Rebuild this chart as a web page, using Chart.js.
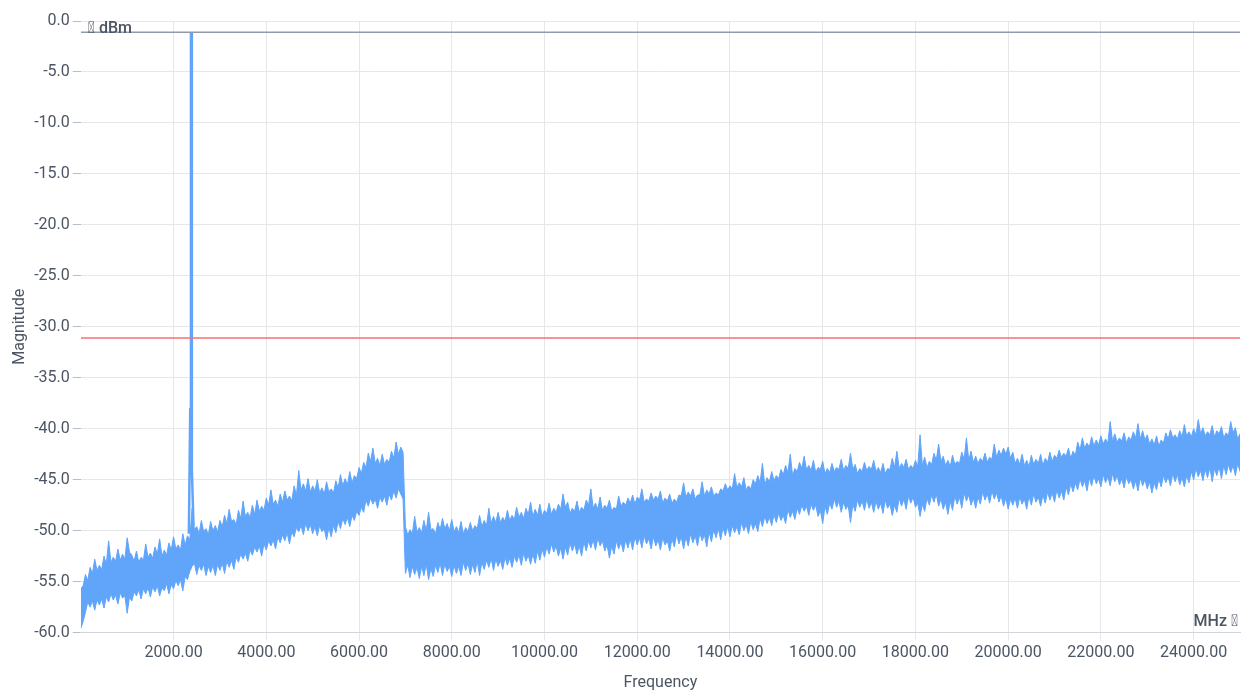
<!DOCTYPE html>
<html>
<head>
<meta charset="utf-8">
<script src="https://cdn.jsdelivr.net/npm/chart.js@4/dist/chart.umd.min.js"></script>
<style>
  html, body { margin: 0; padding: 0; background: #fff; }
  #wrap { width: 1246px; height: 693px; position: relative; }
</style>
</head>
<body>
<div id="wrap"><canvas id="spectrum"></canvas></div>
<script>
// sweep grid: one envelope sample every 50 MHz from 0 to 25000 MHz
const startMHz = 0;
const stepMHz = 50;

// upper edge of the noise band (dBm)
const upperDbm = [
  -55.7, -55.4, -54.3, -54.9, -53.6, -54.2, -52.8, -53.9, -53.4, -53.8, -52.5, -53.3, -51.0, -53.1, -52.6, -53.0, -51.8, -52.9, -52.3, -52.8,
  -50.7, -52.1, -52.4, -53.0, -52.0, -53.1, -52.6, -52.9, -51.3, -52.6, -52.2, -52.7, -51.6, -52.3, -50.8, -52.5, -51.9, -52.4, -51.2, -51.9,
  -50.6, -51.8, -51.4, -51.9, -50.3, -51.4, -50.5, -50.9, -47.8, -49.9, -49.6, -50.3, -49.0, -50.1, -49.8, -50.4, -49.1, -50.0, -49.5, -50.1,
  -49.0, -49.6, -48.5, -49.3, -47.9, -49.1, -48.9, -49.4, -48.0, -48.8, -47.1, -48.6, -48.2, -48.7, -47.5, -48.4, -47.0, -48.1, -47.6, -48.0,
  -46.8, -47.5, -46.0, -47.4, -47.0, -47.6, -46.4, -47.2, -46.1, -47.0, -46.6, -47.1, -45.6, -46.5, -44.1, -46.0, -45.4, -46.1, -44.9, -46.2,
  -45.6, -46.1, -45.0, -46.3, -45.8, -46.4, -45.2, -46.2, -45.9, -46.3, -45.1, -45.8, -44.5, -45.6, -44.9, -45.5, -44.2, -45.3, -44.6, -44.9,
  -43.8, -44.4, -43.3, -43.8, -42.4, -43.2, -41.9, -43.4, -42.9, -43.6, -42.5, -43.5, -43.0, -43.3, -42.2, -42.9, -41.3, -42.5, -41.8, -42.3,
  -49.6, -50.4, -49.9, -50.3, -48.6, -50.1, -49.7, -50.2, -49.0, -50.0, -48.2, -49.9, -49.8, -50.3, -49.2, -49.9, -48.8, -49.8, -49.3, -50.0,
  -48.9, -50.1, -49.6, -50.2, -49.1, -50.3, -49.7, -50.1, -49.2, -50.0, -49.5, -49.8, -48.5, -49.6, -49.0, -49.5, -47.8, -49.3, -48.6, -49.2,
  -48.2, -49.2, -48.7, -49.1, -48.0, -49.0, -48.5, -48.9, -47.7, -48.7, -48.2, -48.8, -47.8, -48.4, -47.2, -48.6, -47.9, -48.5, -47.4, -48.6,
  -48.0, -48.3, -47.3, -48.4, -47.8, -48.2, -47.4, -47.9, -46.4, -47.7, -47.2, -48.3, -47.8, -48.1, -47.1, -48.2, -47.7, -48.0, -47.0, -47.5,
  -45.9, -47.8, -47.3, -47.9, -46.7, -48.0, -47.5, -47.8, -47.0, -48.1, -47.7, -47.9, -46.6, -47.6, -47.2, -47.5, -46.8, -47.3, -46.5, -47.4,
  -46.7, -47.0, -45.9, -47.2, -46.9, -47.1, -46.3, -47.0, -46.6, -46.9, -46.1, -47.3, -46.8, -47.1, -46.4, -47.3, -46.9, -47.2, -46.5, -46.6,
  -45.3, -46.7, -46.2, -46.6, -45.9, -46.9, -46.5, -46.5, -45.2, -46.6, -46.0, -46.4, -45.7, -46.6, -46.3, -46.5, -45.9, -46.1, -45.4, -46.0,
  -45.6, -45.9, -44.4, -45.8, -45.3, -45.7, -44.8, -46.0, -45.6, -45.9, -45.0, -45.4, -44.6, -45.3, -43.4, -45.5, -44.8, -45.2, -44.2, -45.1,
  -44.6, -44.9, -44.0, -44.5, -43.6, -44.3, -42.5, -44.6, -43.9, -44.2, -43.3, -43.9, -42.7, -44.0, -43.6, -44.1, -43.1, -44.3, -43.8, -44.0,
  -43.2, -44.4, -43.9, -44.3, -43.4, -44.2, -43.8, -44.0, -43.0, -44.1, -43.6, -43.9, -42.4, -44.0, -43.5, -44.4, -43.9, -44.2, -43.3, -44.1,
  -43.7, -44.0, -43.1, -44.2, -43.8, -44.3, -43.4, -44.4, -43.9, -44.0, -42.9, -43.8, -42.2, -43.9, -43.4, -43.8, -43.0, -44.0, -43.6, -43.9,
  -43.1, -43.7, -40.6, -43.6, -42.8, -43.8, -43.2, -43.5, -42.4, -43.1, -41.5, -43.2, -42.7, -43.6, -43.1, -43.7, -42.6, -43.5, -43.2, -43.4,
  -42.3, -43.0, -40.9, -43.1, -42.2, -43.3, -42.7, -43.4, -42.9, -43.2, -42.4, -43.3, -42.8, -43.0, -41.5, -42.8, -42.1, -42.6, -41.9, -42.5,
  -41.8, -42.9, -42.3, -43.4, -42.9, -43.5, -42.5, -43.6, -43.1, -43.7, -42.6, -43.5, -43.0, -43.4, -42.5, -43.6, -42.9, -43.3, -42.3, -43.2,
  -42.6, -42.9, -42.1, -42.8, -42.4, -42.7, -41.9, -42.9, -42.2, -42.6, -41.3, -42.1, -40.9, -41.9, -41.4, -41.8, -40.8, -41.7, -41.1, -41.6,
  -40.7, -41.5, -41.0, -41.4, -39.3, -41.2, -40.5, -41.3, -40.9, -41.2, -40.4, -41.4, -40.8, -41.1, -40.3, -40.9, -39.5, -41.0, -40.2, -41.1,
  -40.6, -41.5, -41.0, -41.6, -40.7, -41.7, -41.1, -41.4, -40.4, -41.0, -40.1, -40.9, -40.6, -41.0, -40.2, -40.8, -39.6, -40.7, -40.3, -40.8,
  -40.0, -40.6, -39.1, -40.5, -39.9, -40.7, -40.3, -40.6, -39.7, -40.8, -40.2, -40.5, -39.8, -40.9, -40.4, -40.7, -39.3, -40.4, -39.9, -41.0,
  -40.5
];

// lower edge of the noise band (dBm)
const lowerDbm = [
  -59.6, -58.9, -58.0, -57.0, -57.5, -56.9, -57.8, -56.8, -57.3, -56.7, -57.6, -56.5, -57.0, -56.2, -56.8, -56.3, -57.2, -56.1, -56.6, -56.4,
  -58.1, -56.5, -56.9, -56.0, -56.4, -55.8, -56.7, -55.7, -56.2, -55.6, -56.5, -55.5, -56.0, -55.4, -56.4, -55.6, -55.9, -55.2, -56.2, -55.3,
  -55.7, -54.9, -55.4, -54.8, -55.9, -54.5, -54.8, -54.0, -53.5, -53.2, -54.3, -53.4, -53.9, -53.3, -54.4, -53.5, -54.1, -53.4, -54.4, -53.3,
  -53.9, -53.2, -54.2, -53.0, -53.6, -52.9, -53.8, -52.6, -53.1, -52.3, -52.8, -52.2, -53.0, -51.9, -52.4, -51.6, -52.1, -51.5, -52.5, -51.3,
  -51.9, -51.0, -51.5, -50.9, -51.8, -50.6, -51.2, -50.4, -51.0, -50.2, -51.3, -50.1, -50.6, -49.7, -50.1, -49.5, -50.4, -49.3, -50.0, -49.4,
  -50.3, -49.6, -50.5, -49.5, -50.1, -49.8, -50.9, -49.7, -50.6, -49.5, -50.2, -49.1, -49.8, -48.8, -49.4, -48.7, -49.6, -48.5, -49.0, -48.1,
  -48.5, -47.7, -48.2, -47.0, -47.6, -46.8, -47.4, -46.9, -47.8, -46.7, -47.2, -46.6, -47.5, -46.4, -47.0, -46.1, -46.8, -45.9, -46.4, -46.9,
  -54.2, -53.4, -54.6, -53.5, -54.3, -53.6, -54.7, -53.5, -54.4, -53.3, -54.8, -53.7, -54.5, -53.4, -54.1, -53.2, -54.4, -53.3, -54.0, -53.5,
  -54.5, -53.4, -54.2, -53.5, -54.4, -53.1, -53.9, -53.2, -54.3, -53.3, -54.1, -53.0, -54.4, -53.1, -53.8, -52.9, -53.6, -52.7, -53.9, -52.8,
  -53.5, -52.9, -53.8, -52.6, -53.4, -52.7, -53.6, -52.5, -53.1, -52.4, -53.4, -52.2, -53.0, -52.4, -53.3, -52.3, -53.2, -52.0, -52.9, -51.8,
  -52.6, -51.6, -52.3, -51.3, -52.1, -51.5, -52.5, -51.7, -52.8, -51.6, -52.4, -51.2, -52.0, -51.3, -52.3, -51.5, -52.5, -51.1, -52.0, -51.0,
  -51.7, -50.9, -51.9, -50.7, -51.5, -51.0, -52.0, -51.4, -52.7, -51.5, -52.3, -51.0, -51.8, -51.1, -52.1, -50.9, -51.7, -50.8, -51.9, -50.6,
  -51.4, -50.7, -51.7, -50.5, -51.3, -50.8, -51.8, -50.6, -51.5, -50.9, -51.9, -50.7, -51.4, -51.0, -52.0, -50.8, -51.6, -50.4, -51.3, -50.6,
  -51.8, -50.6, -51.5, -50.3, -51.2, -50.5, -51.5, -50.2, -51.0, -50.4, -51.6, -50.1, -51.1, -49.9, -50.7, -49.8, -50.9, -49.7, -50.5, -49.6,
  -50.6, -49.5, -50.2, -49.6, -50.4, -49.2, -50.0, -49.4, -50.3, -49.1, -49.9, -49.3, -50.1, -48.8, -49.6, -48.6, -49.3, -48.7, -49.5, -48.4,
  -49.2, -48.3, -49.0, -48.5, -49.3, -47.9, -48.7, -48.1, -48.9, -47.8, -48.4, -47.5, -48.1, -47.6, -48.5, -47.4, -48.0, -47.5, -48.6, -48.0,
  -49.3, -47.6, -48.4, -47.3, -47.9, -46.9, -47.7, -47.1, -48.2, -47.2, -47.9, -47.5, -49.2, -47.4, -48.1, -47.0, -47.7, -47.1, -48.0, -46.9,
  -47.8, -47.2, -48.2, -47.1, -47.9, -47.3, -48.3, -47.0, -47.8, -47.4, -48.5, -47.5, -48.2, -46.8, -47.6, -46.9, -47.9, -46.6, -47.3, -46.7,
  -47.7, -47.3, -48.6, -47.4, -48.1, -46.8, -47.5, -46.5, -47.2, -46.4, -47.6, -46.9, -47.9, -47.2, -48.4, -47.1, -48.0, -46.6, -47.4, -46.7,
  -47.8, -46.3, -47.1, -46.5, -47.5, -46.8, -47.8, -46.7, -47.4, -46.2, -47.0, -46.4, -47.3, -46.1, -46.9, -46.3, -47.2, -46.6, -47.6, -46.8,
  -47.9, -46.9, -47.5, -46.8, -47.8, -46.7, -47.4, -46.9, -47.9, -46.6, -47.5, -46.4, -47.2, -46.7, -47.6, -46.5, -47.3, -46.2, -47.0, -46.3,
  -47.2, -46.0, -46.8, -46.1, -47.0, -45.7, -46.5, -45.4, -46.2, -45.3, -46.0, -44.9, -45.7, -45.1, -46.1, -44.8, -45.6, -44.6, -45.4, -44.9,
  -45.7, -44.5, -45.3, -44.7, -45.6, -44.4, -45.2, -44.6, -45.5, -44.9, -45.8, -44.7, -45.4, -45.0, -45.9, -45.1, -46.1, -44.8, -45.6, -45.0,
  -45.9, -45.2, -46.3, -45.3, -46.0, -44.9, -45.7, -44.6, -45.3, -44.7, -45.6, -44.4, -45.2, -44.5, -45.5, -44.8, -45.7, -44.6, -45.3, -44.2,
  -45.0, -43.9, -44.7, -44.1, -45.1, -44.0, -44.8, -43.8, -45.2, -43.9, -44.6, -43.7, -44.9, -43.6, -44.5, -43.5, -44.3, -43.6, -44.6, -43.4,
  -44.2
];

// the carrier spike
const carrierMHz = [2330, 2360, 2375, 2385, 2395, 2430];
const carrierDbm = [-50.3, -38.0, -1.2, -1.1, -44.0, -49.5];

// marker lines
const peakLevel = -1.1;
const thresholdLevel = -31.1;

const xTickValues = [2000, 4000, 6000, 8000, 10000, 12000, 14000, 16000, 18000, 20000, 22000, 24000];
const yTickStep = 5;

const toPoints = arr => arr.map((v, i) => ({ x: startMHz + i * stepMHz, y: v }));
const hLine = level => [{ x: 0, y: level }, { x: 25000, y: level }];

const textColor = "#4b5563";
const gridColor = "#e5e7eb";
const blue = "#60a5fa";

// unit captions drawn inside the plot area
const unitLabels = {
  id: "unitLabels",
  afterDatasetsDraw(chart) {
    const { ctx, chartArea } = chart;
    ctx.save();
    ctx.font = "500 16px Roboto";
    ctx.fillStyle = textColor;
    ctx.textBaseline = "middle";
    ctx.textAlign = "left";
    ctx.fillText("\uE000 dBm", chartArea.left + 7, chartArea.top + 8);
    ctx.textAlign = "right";
    ctx.fillText("MHz \uE000", chartArea.right - 2, chartArea.bottom - 11);
    ctx.restore();
  }
};

new Chart(document.getElementById("spectrum"), {
  type: "line",
  data: {
    datasets: [
      {
        data: hLine(peakLevel),
        borderColor: "#8f9bad",
        borderWidth: 1.5,
        pointRadius: 0,
        order: 0
      },
      {
        data: hLine(thresholdLevel),
        borderColor: "#f87171",
        borderWidth: 1.5,
        pointRadius: 0,
        order: 0
      },
      {
        data: carrierMHz.map((f, i) => ({ x: f, y: carrierDbm[i] })),
        borderColor: blue,
        borderWidth: 2.5,
        borderJoinStyle: "bevel",
        pointRadius: 0,
        order: 1
      },
      {
        data: toPoints(upperDbm),
        borderColor: blue,
        backgroundColor: blue,
        borderWidth: 1,
        pointRadius: 0,
        fill: "+1",
        order: 2
      },
      {
        data: toPoints(lowerDbm),
        borderColor: blue,
        borderWidth: 1,
        pointRadius: 0,
        fill: false,
        order: 2
      }
    ]
  },
  options: {
    responsive: true,
    maintainAspectRatio: false,
    animation: false,
    layout: { padding: { top: 21, right: 6, left: 10, bottom: 0 } },
    plugins: {
      legend: { display: false },
      tooltip: { enabled: false }
    },
    scales: {
      x: {
        type: "linear",
        min: 0,
        max: 25000,
        afterBuildTicks: scale => {
          scale.ticks = xTickValues.map(v => ({ value: v }));
        },
        ticks: {
          autoSkip: false,
          maxRotation: 0,
          color: textColor,
          font: { family: "Roboto", size: 16 },
          callback: v => Number(v).toFixed(2)
        },
        grid: { color: gridColor, tickColor: gridColor },
        border: { color: "#d1d5db" },
        title: {
          display: true,
          text: "Frequency",
          color: textColor,
          font: { family: "Roboto", size: 16 },
          padding: { top: 8, bottom: 0 }
        }
      },
      y: {
        min: -60,
        max: 0,
        ticks: {
          stepSize: yTickStep,
          color: textColor,
          font: { family: "Roboto", size: 16 },
          callback: v => Number(v).toFixed(1)
        },
        grid: { color: gridColor, tickColor: "#b8bec8" },
        border: { display: false },
        title: {
          display: true,
          text: "Magnitude",
          color: textColor,
          font: { family: "Roboto", size: 16 },
          padding: { top: 0, bottom: 2 }
        }
      }
    }
  },
  plugins: [unitLabels]
});
</script>
</body>
</html>
